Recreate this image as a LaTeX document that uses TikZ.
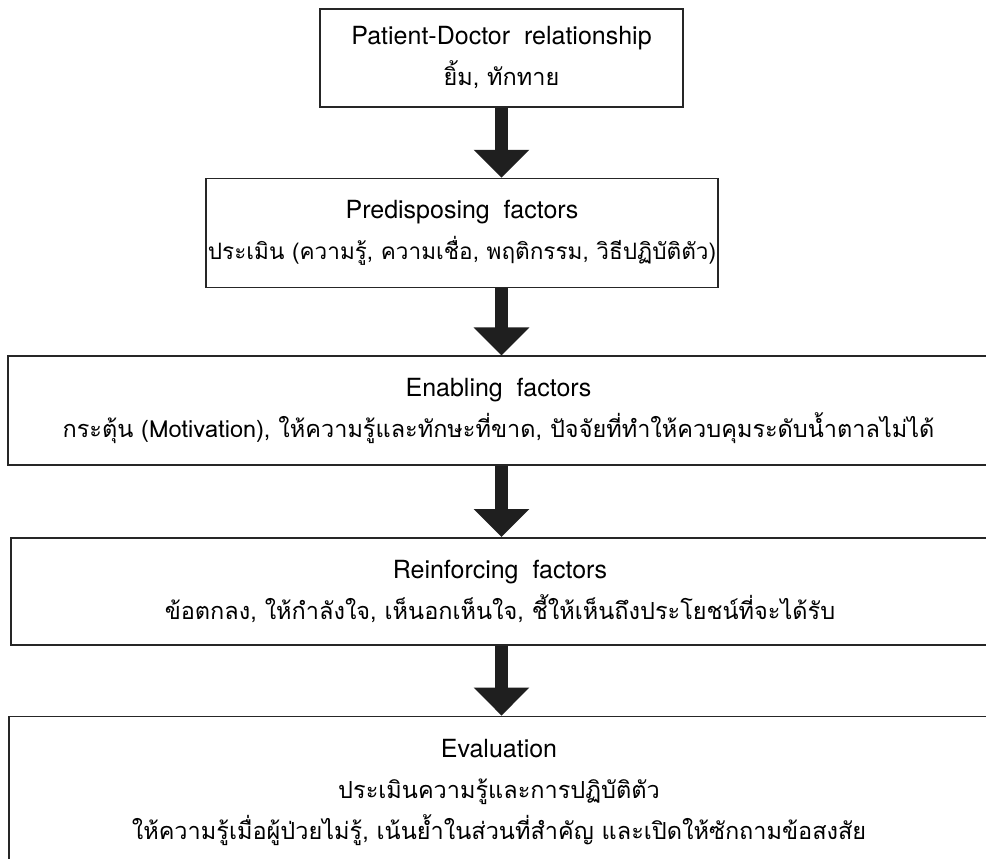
\documentclass[tikz,border=0pt]{standalone}
\usepackage{fontspec}
\setmainfont{TeX Gyre Heros}
\newfontfamily\thai[Script=Thai,Scale=0.94]{Loma}
\usetikzlibrary{arrows.meta,positioning}

\begin{document}
\begin{tikzpicture}[x=1pt, y=1pt]
        % Define block styles
        \tikzstyle{block} = [rectangle, draw=black!85, line width=1.6pt, align=center,
            inner sep=0pt, font=\fontsize{25}{41}\selectfont]
        \tikzstyle{line} = [draw=black!88, line width=13pt, -{Triangle[width=54pt, length=28pt]}]

        \useasboundingbox (0,0) rectangle (986,-859);

        % Nodes
        \node [block, minimum width=363pt, minimum height=98pt] (relation) at (501.5,-58)
            {Patient-Doctor\ \ relationship\\ {\thai ยิ้ม, ทักทาย}};
        \node [block, below=70pt of relation, xshift=-39.5pt, minimum width=512pt, minimum height=109pt] (predisp)
            {Predisposing\ \ factors\\ {\thai\fontsize{24}{41}\selectfont ประเมิน (ความรู้, ความเชื่อ, พฤติกรรม, วิธีปฏิบัติตัว)}};
        \node [block, below=67pt of predisp, xshift=36.5pt, minimum width=981pt, minimum height=109pt] (enabling)
            {Enabling\ \ factors\\ {\thai กระตุ้น (Motivation), ให้ความรู้และทักษะที่ขาด, ปัจจัยที่ทำให้ควบคุมระดับน้ำตาลไม่ได้}};
        \node [block, below=71pt of enabling, xshift=1.5pt, minimum width=978pt, minimum height=107pt] (reinforce)
            {Reinforcing\ \ factors\\ {\thai ข้อตกลง, ให้กำลังใจ, เห็นอกเห็นใจ, ชี้ให้เห็นถึงประโยชน์ที่จะได้รับ}};
        \node [block, below=70pt of reinforce, xshift=-1pt, minimum width=980pt, minimum height=152pt] (evaluation)
            {Evaluation\\ {\thai ประเมินความรู้และการปฏิบัติตัว}\\
             {\thai ให้ความรู้เมื่อผู้ป่วยไม่รู้, เน้นย้ำในส่วนที่สำคัญ และเปิดให้ซักถามข้อสงสัย}};

        % Arrows
        \path [line] (relation.south) -- (relation.south |- predisp.north);
        \path [line] (relation.south |- predisp.south) -- (relation.south |- enabling.north);
        \path [line] (relation.south |- enabling.south) -- (relation.south |- reinforce.north);
        \path [line] (relation.south |- reinforce.south) -- (relation.south |- evaluation.north);
    \end{tikzpicture}
\end{document}
